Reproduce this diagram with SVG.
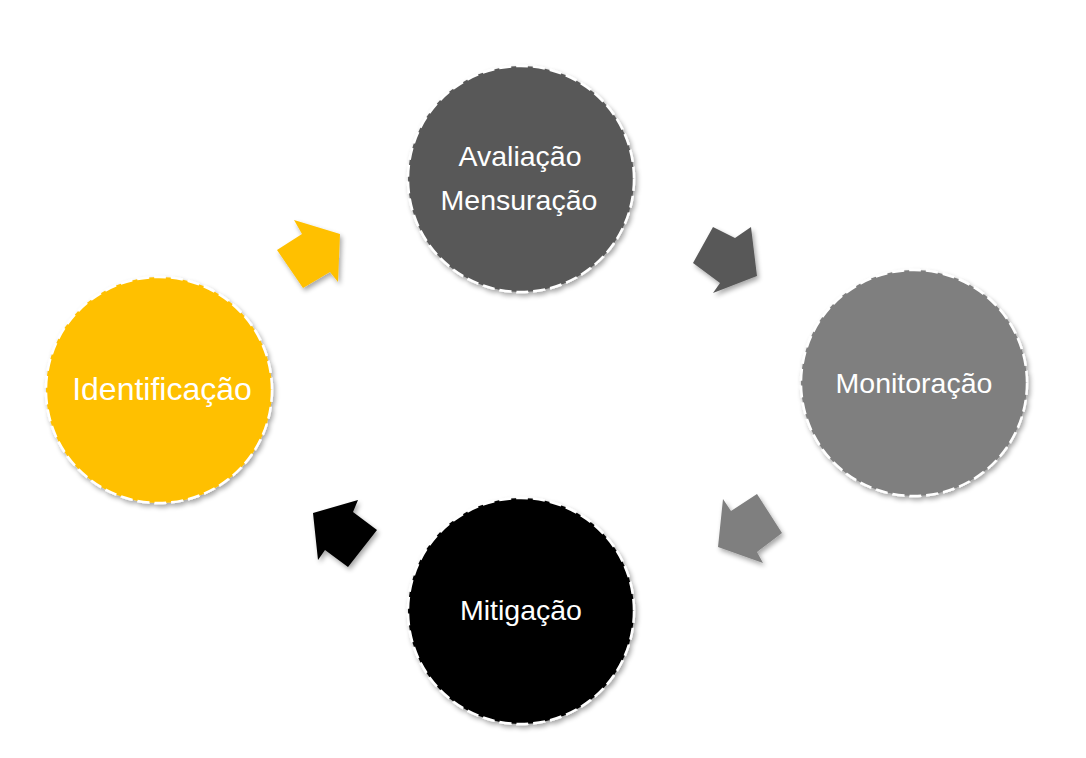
<svg xmlns="http://www.w3.org/2000/svg" width="1086" height="758" viewBox="0 0 1086 758">
<defs>
<filter id="sh" x="-20%" y="-20%" width="140%" height="140%">
<feGaussianBlur in="SourceAlpha" stdDeviation="2.5"/>
<feOffset dx="2" dy="3" result="b"/>
<feComponentTransfer><feFuncA type="linear" slope="0.35"/></feComponentTransfer>
<feMerge><feMergeNode/><feMergeNode in="SourceGraphic"/></feMerge>
</filter>
<style>
.node{stroke:#ffffff;stroke-width:2.5;stroke-dasharray:12 5;filter:url(#sh)}
.lbl{font-family:"Liberation Sans",Arial,sans-serif;fill:#ffffff;text-anchor:middle}
.arr{filter:url(#sh)}
</style>
</defs>
<rect width="1086" height="758" fill="#ffffff"/>
<g id="connectors">
<polygon class="arr" fill="#FFC000" points="302,234 294,220 340,234 338,282 330,272 303,288 277,250"/>
<polygon class="arr" fill="#595959" points="713,227 735,238 751,227 757,276 713,293 720,283 693,263"/>
<polygon class="arr" fill="#7F7F7F" points="757,494 782,533 757,552 763,563 718,547 723,499 731,511"/>
<polygon class="arr" fill="#000000" points="377,530 348,567 325,550 318,560 313,513 358,500 353,512"/>
</g>
<g id="avaliacao">
<circle class="node" cx="521" cy="179" r="113" fill="#595959"/>
<text class="lbl" x="520" y="166" font-size="28.5">Avaliação</text>
<text class="lbl" x="519" y="210" font-size="28.5">Mensuração</text>
</g>
<g id="monitoracao">
<circle class="node" cx="914" cy="383" r="113" fill="#7F7F7F"/>
<text class="lbl" x="914" y="393" font-size="28.5">Monitoração</text>
</g>
<g id="mitigacao">
<circle class="node" cx="521" cy="611" r="113" fill="#000000"/>
<text class="lbl" x="521" y="620" font-size="28.5">Mitigação</text>
</g>
<g id="identificacao">
<circle class="node" cx="159" cy="390" r="113" fill="#FFC000"/>
<text class="lbl" x="162" y="400" font-size="32">Identificação</text>
</g>
</svg>
